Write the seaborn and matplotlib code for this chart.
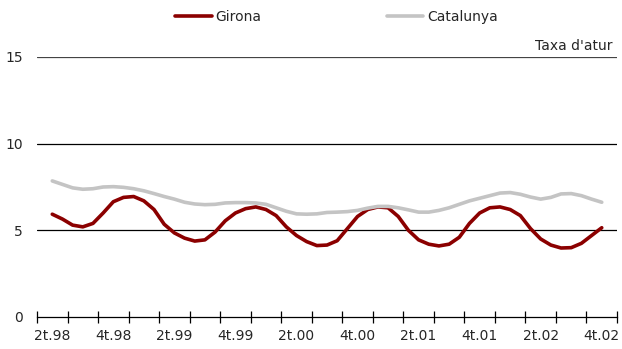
import numpy as np
import pandas as pd
import matplotlib
matplotlib.use("Agg")
import matplotlib.pyplot as plt
import seaborn as sns

# trimestres (etiquetes de l'eix) i dades mensuals de taxa d'atur
trimestres = ["2t.98", "3t.98", "4t.98", "1t.99", "2t.99", "3t.99", "4t.99",
              "1t.00", "2t.00", "3t.00", "4t.00", "1t.01", "2t.01", "3t.01",
              "4t.01", "1t.02", "2t.02", "3t.02", "4t.02"]

girona = [5.93, 5.65, 5.30, 5.20, 5.40, 6.00, 6.65, 6.90, 6.95, 6.70,
          6.20, 5.35, 4.85, 4.55, 4.38, 4.45, 4.90, 5.55, 6.00, 6.25,
          6.35, 6.20, 5.85, 5.20, 4.70, 4.35, 4.12, 4.15, 4.40, 5.10,
          5.80, 6.20, 6.35, 6.30, 5.80, 5.00, 4.45, 4.20, 4.10, 4.20,
          4.60, 5.40, 6.00, 6.30, 6.35, 6.20, 5.85, 5.10, 4.50, 4.15,
          3.98, 4.00, 4.25, 4.70, 5.15]

catalunya = [7.85, 7.65, 7.45, 7.37, 7.40, 7.50, 7.52, 7.48, 7.40, 7.28,
             7.12, 6.95, 6.80, 6.62, 6.52, 6.48, 6.50, 6.58, 6.60, 6.60,
             6.58, 6.50, 6.30, 6.10, 5.95, 5.93, 5.95, 6.03, 6.05, 6.08,
             6.15, 6.28, 6.38, 6.38, 6.30, 6.18, 6.05, 6.05, 6.15, 6.30,
             6.50, 6.70, 6.85, 7.00, 7.15, 7.18, 7.08, 6.92, 6.80, 6.90,
             7.10, 7.12, 7.00, 6.80, 6.62]

# posicio en unitats de trimestre (un punt per mes)
t = np.arange(len(girona)) / 3.0
df = pd.DataFrame({
    "t": np.concatenate([t, t]),
    "taxa": girona + catalunya,
    "zona": ["Girona"] * len(girona) + ["Catalunya"] * len(catalunya),
})

sns.set_style("white")
plt.rcParams["font.family"] = ["DejaVu Sans"]

fig = plt.figure(figsize=(6.22, 3.49), dpi=100)
ax = fig.add_axes([0.0595, 0.0917, 0.9325, 0.745])

# linies de referencia horitzontals
for y in [5, 10, 15]:
    ax.axhline(y, color="black" if y < 15 else "#444444", lw=0.9, zorder=1)

sns.lineplot(data=df, x="t", y="taxa", hue="zona",
             palette={"Girona": "#8B0000", "Catalunya": "#C4C4C4"},
             linewidth=2.6, ax=ax, legend=True, zorder=3)

ax.set_xlim(-0.5, len(trimestres) - 0.5)
ax.set_ylim(0, 15)
ax.set_xlabel("")
ax.set_ylabel("")

# marques als limits dels trimestres, etiquetes al centre
ax.set_xticks(np.arange(-0.5, len(trimestres), 1.0))
ax.set_xticklabels([])
ax.tick_params(axis="x", which="major", direction="inout", length=8,
               width=0.9, color="black", bottom=True)
ax.set_xticks(np.arange(0, len(trimestres), 2), minor=True)
ax.set_xticklabels(trimestres[::2], minor=True, fontsize=10)
ax.tick_params(axis="x", which="minor", length=0, pad=9)

ax.set_yticks([0, 5, 10, 15])
ax.set_yticklabels(["0", "5", "10", "15"], fontsize=10)
ax.tick_params(axis="y", length=0, pad=10)

for s in ["left", "right", "top"]:
    ax.spines[s].set_visible(False)
ax.spines["bottom"].set_color("black")
ax.spines["bottom"].set_linewidth(0.9)

ax.text(len(trimestres) - 0.65, 15.25, "Taxa d'atur",
        ha="right", va="bottom", fontsize=10)

ax.legend(title=None, frameon=False, ncol=2, loc="center",
          bbox_to_anchor=(0.541, 0.951), bbox_transform=fig.transFigure,
          fontsize=10, handlelength=2.65, columnspacing=9.0, handletextpad=0.25)

fig.savefig("out.png", dpi=100)
plt.close(fig)
